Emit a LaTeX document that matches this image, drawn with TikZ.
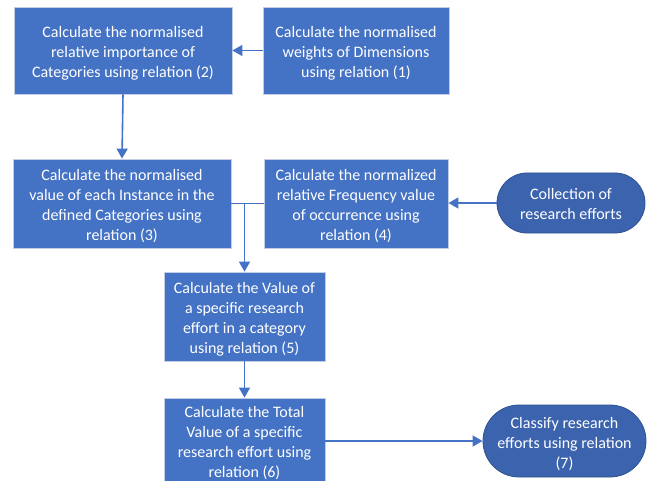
\documentclass[tikz,border=0pt]{standalone}
\usepackage{fontspec}
\setmainfont{Carlito}
\usetikzlibrary{arrows.meta,shapes.misc}

\definecolor{boxblue}{HTML}{4472C4}
\definecolor{boxedge}{HTML}{C3CDE3}
\definecolor{termblue}{HTML}{3C64AE}
\definecolor{termedge}{HTML}{2F528F}
\definecolor{linkblue}{HTML}{4472C4}

\tikzset{
  boxtext/.style={text=white, align=center, inner sep=0pt,
    font=\fontsize{16bp}{20bp}\selectfont},
  procbox/.style={rectangle, fill=boxblue, draw=boxedge, line width=0.8bp,
    inner sep=0pt},
  termbox/.style={rounded rectangle, fill=termblue, draw=termedge, line width=0.8bp,
    inner sep=0pt},
  % text placed at the shape centre, set slightly low
  says/.style={label={[boxtext, yshift=-3bp]center:{#1}}},
  link/.style={draw=linkblue, line width=1.6bp},
  arr/.style={link, -{Triangle[width=11bp,length=10bp]}}
}

\begin{document}
\begin{tikzpicture}[x=1bp,y=-1bp]
\useasboundingbox (0,0) rectangle (654,481);
\clip (0,0) rectangle (654,481);

% process boxes
\node[procbox, minimum width=218bp, minimum height=87bp,
  says={Calculate the normalised\\relative importance of\\Categories using relation (2)}]
  (A) at (123,50.5) {};
\node[procbox, minimum width=186bp, minimum height=87bp,
  says={Calculate the normalised\\weights of Dimensions\\using relation (1)}]
  (B) at (356,50.5) {};
\node[procbox, minimum width=218bp, minimum height=89bp,
  says={Calculate the normalised\\value of each Instance in the\\defined Categories using\\relation (3)}]
  (C) at (122,203.5) {};
\node[procbox, minimum width=184bp, minimum height=89bp,
  says={Calculate the normalized\\relative Frequency value\\of occurrence using\\relation (4)}]
  (D) at (356,203.5) {};
\node[procbox, minimum width=161bp, minimum height=89bp,
  says={Calculate the Value of\\a specific research\\effort in a category\\using relation (5)}]
  (F) at (244.5,316.5) {};
\node[procbox, minimum width=161bp, minimum height=90bp,
  label={[boxtext]center:{Calculate the Total\\Value of a specific\\research effort using\\relation (6)}}]
  (G) at (244.5,443) {};

% terminal shapes
\node[termbox, minimum width=148bp, minimum height=60bp,
  label={[boxtext, yshift=-1bp]center:{Collection of\\research efforts}}]
  (E) at (571,203) {};
\node[termbox, minimum width=163bp, minimum height=72bp,
  says={Classify research\\efforts using relation\\(7)}]
  (H) at (564.5,441) {};

% connectors
\draw[arr] (B.west) -- (A.east);
\draw[arr] (A.south) -- (C.north);
\draw[link] (C.east) -- (D.west);
\coordinate (J) at (F.north |- C.east);
\draw[arr] (J) -- (F.north);
\draw[arr] (E.west) -- (D.east |- E.west);
\draw[arr] (F.south) -- (G.north);
\draw[arr] (G.east |- H.west) -- (H.west);
\end{tikzpicture}
\end{document}
